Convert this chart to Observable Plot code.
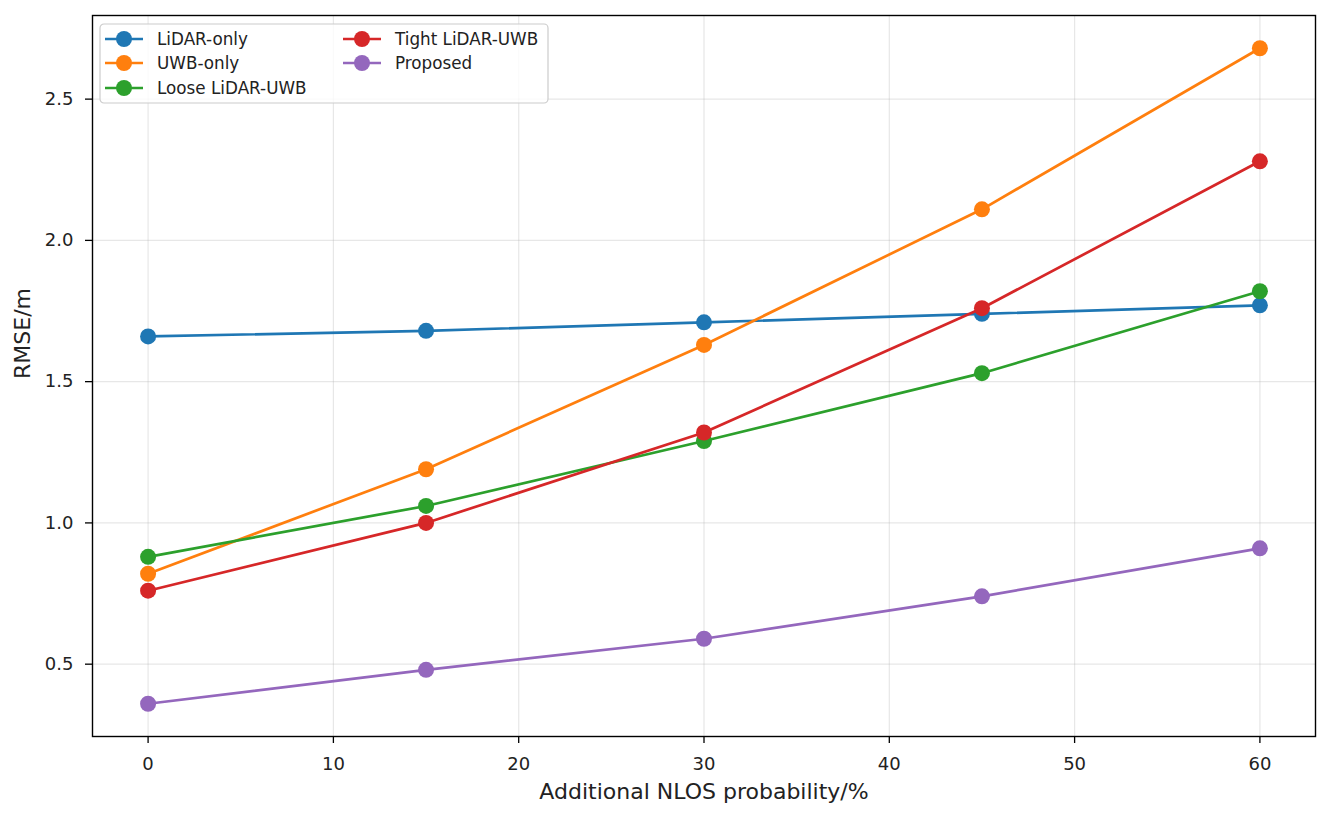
<!DOCTYPE html>
<html>
<head>
<meta charset="utf-8">
<script src="https://cdn.jsdelivr.net/npm/d3@7"></script>
<script src="https://cdn.jsdelivr.net/npm/@observablehq/plot@0.6"></script>
<style>
  html, body { margin: 0; padding: 0; background: #fff; }
  #chart { position: relative; width: 1327px; height: 818px; }
  svg { font-family: "DejaVu Sans", sans-serif; }
</style>
</head>
<body>
<div id="chart"></div>
<script>
const xValues = [0, 15, 30, 45, 60];
const seriesNames = ["LiDAR-only", "UWB-only", "Loose LiDAR-UWB", "Tight LiDAR-UWB", "Proposed"];
const lidarOnly = [1.66, 1.68, 1.71, 1.74, 1.77];
const uwbOnly = [0.82, 1.19, 1.63, 2.11, 2.68];
const looseLidarUwb = [0.88, 1.06, 1.29, 1.53, 1.82];
const tightLidarUwb = [0.76, 1.00, 1.32, 1.76, 2.28];
const proposed = [0.36, 0.48, 0.59, 0.74, 0.91];
const colors = ["#1f77b4", "#ff7f0e", "#2ca02c", "#d62728", "#9467bd"];
const xTicks = [0, 10, 20, 30, 40, 50, 60];
const yTicks = [0.5, 1.0, 1.5, 2.0, 2.5];
const xLabel = "Additional NLOS probability/%";
const yLabel = "RMSE/m";

const seriesValues = [lidarOnly, uwbOnly, looseLidarUwb, tightLidarUwb, proposed];
const data = seriesNames.map((name, i) =>
  xValues.map((x, j) => ({series: name, x, y: seriesValues[i][j]}))
);

const W = 1327, H = 818;
const mL = 92, mR = 12, mT = 15, mB = 82;

const seriesMarks = data.flatMap((d, i) => [
  Plot.line(d, {x: "x", y: "y", stroke: colors[i], strokeWidth: 2.7}),
  Plot.dot(d, {x: "x", y: "y", fill: colors[i], r: 8, stroke: "none"})
]);

const svg = Plot.plot({
  width: W, height: H,
  marginLeft: mL, marginRight: mR, marginTop: mT, marginBottom: mB,
  style: {fontFamily: "DejaVu Sans, sans-serif", background: "white"},
  x: {domain: [-3, 63]},
  y: {domain: [0.244, 2.796]},
  marks: [
    Plot.gridX(xTicks, {stroke: "#b0b0b0", strokeOpacity: 0.3, strokeWidth: 1.2}),
    Plot.gridY(yTicks, {stroke: "#b0b0b0", strokeOpacity: 0.3, strokeWidth: 1.2}),
    ...seriesMarks,
    Plot.frame({stroke: "black", strokeWidth: 1.4}),
    Plot.axisX(xTicks, {tickSize: 7, tickPadding: 14, fontSize: 18, label: null, stroke: "black", strokeWidth: 1.3, color: "#222"}),
    Plot.axisY(yTicks, {tickSize: 7, tickPadding: 12, fontSize: 18, label: null, tickFormat: d3.format(".1f"), stroke: "black", strokeWidth: 1.3, color: "#222"}),
    Plot.text([xLabel], {text: d => d, frameAnchor: "bottom", dy: 62, fontSize: 22, fill: "#222"}),
    Plot.text([yLabel], {text: d => d, frameAnchor: "left", dx: -70, dy: 3, rotate: -90, fontSize: 22, fill: "#222"})
  ]
});

document.getElementById("chart").appendChild(svg);

// Legend (inside plot, upper left)
const s = d3.select(svg);
const lg = s.append("g").attr("transform", "translate(100,24)");
lg.append("rect")
  .attr("width", 448).attr("height", 79).attr("rx", 4)
  .attr("fill", "white").attr("fill-opacity", 0.8)
  .attr("stroke", "#cccccc").attr("stroke-width", 1.2);
const cols = [[0, 1, 2], [3, 4]];
const colX = [5, 243];
const rowY = [15, 39, 64];
cols.forEach((idxs, c) => {
  idxs.forEach((k, r) => {
    const g = lg.append("g").attr("transform", `translate(${colX[c]},${rowY[r]})`);
    g.append("line").attr("x1", 0).attr("x2", 38).attr("y1", 0).attr("y2", 0)
      .attr("stroke", colors[k]).attr("stroke-width", 2.7);
    g.append("circle").attr("cx", 19).attr("cy", 0).attr("r", 8).attr("fill", colors[k]);
    g.append("text").attr("x", 52).attr("y", 0).attr("dy", "0.35em")
      .attr("text-anchor", "start")
      .attr("font-size", 16.8).attr("fill", "#222").text(seriesNames[k]);
  });
});
</script>
</body>
</html>
